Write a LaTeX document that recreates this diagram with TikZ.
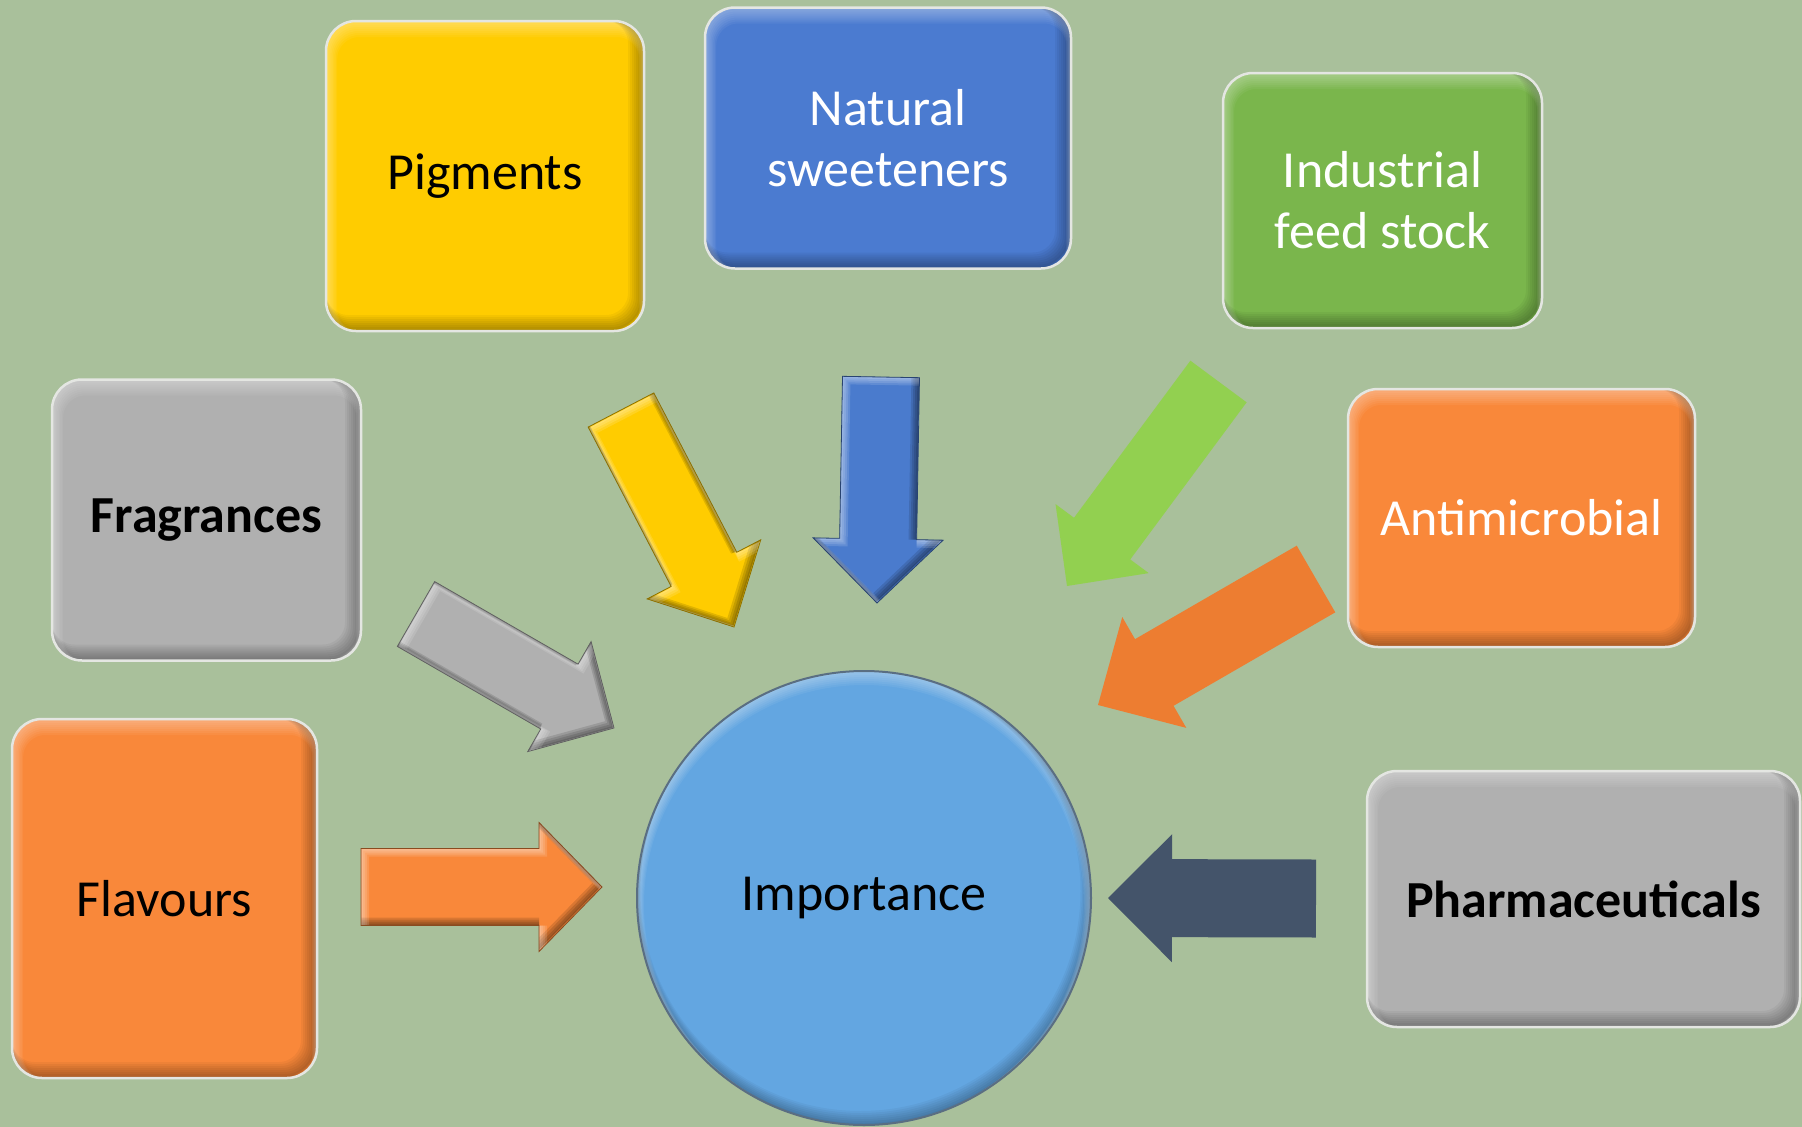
\documentclass[tikz,border=0pt]{standalone}
\usepackage{fontspec}
\setmainfont{Carlito}
\usetikzlibrary{calc}

\definecolor{bg}{RGB}{169,192,155}
\definecolor{rim}{RGB}{228,230,226}
\definecolor{ylw}{RGB}{255,204,0}
\definecolor{blu}{RGB}{75,123,208}
\definecolor{grn}{RGB}{122,182,76}
\definecolor{gry}{RGB}{176,176,176}
\definecolor{org}{RGB}{249,136,58}
\definecolor{sky}{RGB}{99,166,225}
\definecolor{ring}{RGB}{90,110,130}
\definecolor{lime}{RGB}{146,208,80}
\definecolor{rust}{RGB}{237,125,49}
\definecolor{slate}{RGB}{68,84,106}
\definecolor{arrblue}{RGB}{74,123,205}

% geometry of a block arrow: name, tail, tip, half shaft, half head, head length
\newcommand{\arrowgeom}[6]{%
  \coordinate (#1-tip) at (#3);
  \coordinate (#1-hb) at ($(#3)!#6!(#2)$);
  \coordinate (#1-t1) at ($(#2)!#4!90:(#3)$);
  \coordinate (#1-t2) at ($(#2)!#4!-90:(#3)$);
  \coordinate (#1-s1) at ($(#1-hb)!#4!90:(#3)$);
  \coordinate (#1-s2) at ($(#1-hb)!#4!-90:(#3)$);
  \coordinate (#1-h1) at ($(#1-hb)!#5!90:(#3)$);
  \coordinate (#1-h2) at ($(#1-hb)!#5!-90:(#3)$);
}
% outline of a block arrow, shifted by #2, drawn with options #3
\newcommand{\arrowbody}[3]{%
  \path[#3] ([shift={(#2)}]#1-t1) -- ([shift={(#2)}]#1-s1) -- ([shift={(#2)}]#1-h1)
    -- ([shift={(#2)}]#1-tip) -- ([shift={(#2)}]#1-h2) -- ([shift={(#2)}]#1-s2)
    -- ([shift={(#2)}]#1-t2) -- cycle;
}
\newcommand{\flatarrow}[2]{\arrowbody{#1}{0pt,0pt}{fill=#2}}
\newcommand{\bevelarrow}[2]{%
  \arrowbody{#1}{0pt,0pt}{fill=#2}
  \begin{scope}
    \arrowbody{#1}{0pt,0pt}{clip}
    \foreach \d in {1,...,4}{%
      \arrowbody{#1}{-\d pt,\d pt}{draw=black, draw opacity=.12, line width=2*\d}
      \arrowbody{#1}{\d pt,-\d pt}{draw=white, draw opacity=.13, line width=2*\d}
    }
  \end{scope}
  \arrowbody{#1}{0pt,0pt}{draw=#2!55!black, line width=.8pt}
}

\tikzset{
  label font/.style={font=\fontsize{52}{61}\selectfont},
  tile/.style={rounded corners=30pt, fill=#1, draw=rim, line width=2.5pt,
    inner sep=0pt, align=center, label font,
    path picture={
      \foreach \d in {1,...,8}{
        \draw[rounded corners=30pt, line width=2*\d, black, opacity=.045]
          ([shift={(-\d pt,\d pt)}]path picture bounding box.south west) rectangle
          ([shift={(-\d pt,\d pt)}]path picture bounding box.north east);
        \draw[rounded corners=30pt, line width=2*\d, white, opacity=.05]
          ([shift={(0.4*\d pt,-\d pt)}]path picture bounding box.south west) rectangle
          ([shift={(0.4*\d pt,-\d pt)}]path picture bounding box.north east);
      }
    }},
  hub/.style={circle, inner sep=0pt, fill=sky, draw=ring, line width=2pt, label font,
    path picture={
      \foreach \d in {1,...,7}{
        \draw[line width=2*\d, black, opacity=.04]
          ([shift={(-0.5*\d pt,\d pt)}]path picture bounding box.center) circle[radius=227pt];
        \draw[line width=2*\d, white, opacity=.06]
          ([shift={(0pt,-\d pt)}]path picture bounding box.center) circle[radius=227pt];
      }
    }},
}

\begin{document}
\begin{tikzpicture}[x=1pt,y=-1pt]
  \useasboundingbox (0,0) rectangle (1802,1127);
  \fill[bg] (0,0) rectangle (1802,1127);

  % category tiles
  \node[tile=ylw, minimum width=318pt, minimum height=310pt] (pig) at (485,176) {Pigments};
  \node[tile=blu, minimum width=366pt, minimum height=261pt, text=white] (nat) at (888,138) {Natural\\sweeteners};
  \node[tile=grn, minimum width=319pt, minimum height=255pt, text=white] (ind) at (1382.5,200.5) {Industrial\\feed stock};
  \node[tile=gry, minimum width=309pt, minimum height=281pt, font=\fontsize{52}{61}\selectfont\bfseries] (fra) at (206.5,520) {Fragrances};
  \node[tile=org, minimum width=347pt, minimum height=258pt, text=white] (ant) at (1521.5,518) {Antimicrobial};
  \node[tile=org, minimum width=305pt, minimum height=359pt] (fla) at (164.5,898.5) {Flavours};
  \node[tile=gry, minimum width=433pt, minimum height=256pt, font=\fontsize{52}{61}\selectfont\bfseries] (pha) at (1583.5,899) {Pharmaceuticals};

  % central circle
  \node[hub, minimum size=454pt] (imp) at (864,898) {\raisebox{-3pt}{Importance}};

  % arrow end points
  \coordinate (pig-out) at (621,410);   \coordinate (imp-pig) at (734,627);
  \coordinate (nat-out) at (881,377);   \coordinate (imp-nat) at (877,603);
  \coordinate (ind-out) at (1218.5,381.5); \coordinate (imp-ind) at (1067,586);
  \coordinate (ant-out) at (1316,579);  \coordinate (imp-ant) at (1098,705);
  \coordinate (fra-out) at (416,614);   \coordinate (imp-fra) at (614,728);
  \coordinate (fla-out) at (361,887);   \coordinate (imp-fla) at (602,887);
  \coordinate (pha-out) at (1316,898.5); \coordinate (imp-pha) at (1108,898);

  \arrowgeom{ay}{pig-out}{imp-pig}{37pt}{64pt}{65pt}
  \arrowgeom{ab}{nat-out}{imp-nat}{38.5pt}{65pt}{64pt}
  \arrowgeom{ag}{ind-out}{imp-ind}{35pt}{58pt}{59pt}
  \arrowgeom{ao}{ant-out}{imp-ant}{38.5pt}{64pt}{65pt}
  \arrowgeom{ar}{fra-out}{imp-fra}{37.4pt}{63.5pt}{63pt}
  \arrowgeom{af}{fla-out}{imp-fla}{38.5pt}{64.5pt}{63pt}
  \arrowgeom{as}{pha-out}{imp-pha}{39pt}{64pt}{64pt}

  \bevelarrow{ay}{ylw}
  \bevelarrow{ab}{arrblue}
  \flatarrow{ag}{lime}
  \flatarrow{ao}{rust}
  \bevelarrow{ar}{gry}
  \bevelarrow{af}{org}
  \flatarrow{as}{slate}
\end{tikzpicture}
\end{document}
